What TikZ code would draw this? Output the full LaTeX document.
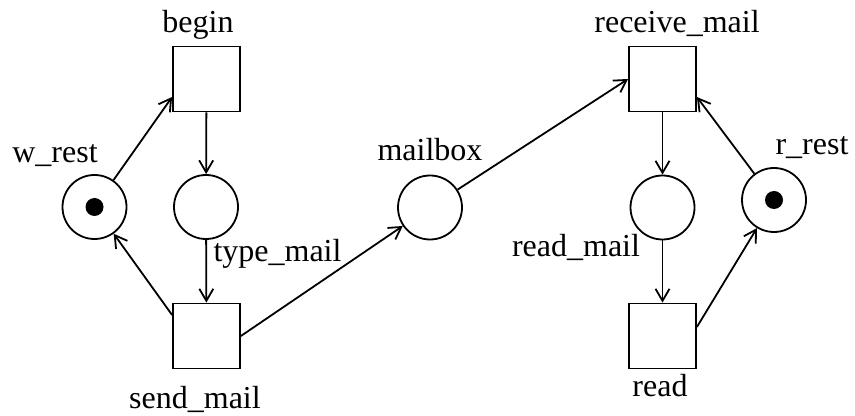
\documentclass[tikz,border=0pt]{standalone}
\usepackage{fontspec}
\setmainfont{Liberation Serif}
\usetikzlibrary{arrows.meta,calc}
\begin{document}
\begin{tikzpicture}[x=0.5pt,y=-0.5pt,
  line width=0.9pt,
  trans/.style={draw,rectangle,minimum width=33.5pt,minimum height=32.5pt,inner sep=0pt},
  place/.style={draw,circle,minimum size=32pt,inner sep=0pt},
  token/.style={fill,circle,minimum size=9pt,inner sep=0pt},
  lbl/.style={font=\fontsize{16}{18}\selectfont,inner sep=0pt,anchor=base},
  arc/.style={-{Straight Barb[length=6pt,width=7pt]}}]
\useasboundingbox (0,0) rectangle (855,416);
% transitions
\node[trans] (begin) at (206.5,79) {};
\node[trans] (send) at (206.5,336) {};
\node[trans] (recv) at (662.5,79) {};
\node[trans] (read) at (662.5,336) {};
% places
\node[place] (wrest) at (94.5,207) {};
\node[token] (wtok) at (94.5,207) {};
\node[place] (type) at (206,207) {};
\node[place] (mailbox) at (430,207.5) {};
\node[place] (readmail) at (662.5,207.5) {};
\node[place] (rrest) at (774,200) {};
\node[token] (rtok) at (774,200) {};
% labels
\node[lbl] (lbegin) at (198,33) {begin};
\node[lbl] (lwrest) at (55,163) {w\_rest};
\node[lbl] (ltype) at (277.5,262) {type\_mail};
\node[lbl] (lsend) at (195,408) {send\_mail};
\node[lbl] (lmailbox) at (430,161) {mailbox};
\node[lbl] (lrecv) at (677,33) {receive\_mail};
\node[lbl] (lreadmail) at (576,257) {read\_mail};
\node[lbl] (lrrest) at (812,155) {r\_rest};
\node[lbl] (lread) at (660,396) {read};
% helper coordinates
\coordinate (bw) at ($(begin.west)+(0,18)$);
\coordinate (sw) at ($(send.west)+(0,-21)$);
\coordinate (re) at ($(recv.east)+(0,18)$);
\coordinate (rde) at ($(read.east)+(0,-9)$);
% arcs
\draw[arc] (wrest) -- (bw);
\draw[arc] (sw) -- (wrest);
\draw[arc] (begin) -- (type);
\draw[arc] (type) -- (send);
\draw[arc] (send.east) -- (mailbox);
\draw[arc] (mailbox) -- (recv.west);
\draw[arc] (recv) -- (readmail);
\draw[arc] (readmail) -- (read);
\draw[arc] (rde) -- (rrest);
\draw[arc] (rrest) -- (re);
\end{tikzpicture}
\end{document}
